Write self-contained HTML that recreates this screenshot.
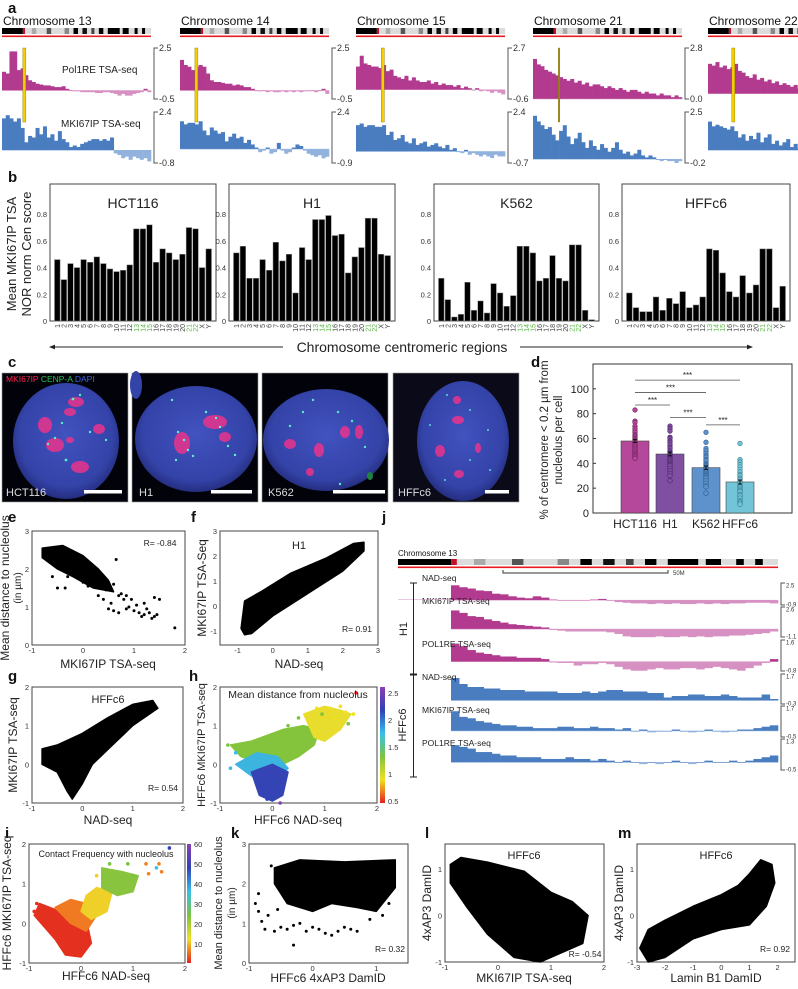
<!DOCTYPE html>
<html><head><meta charset="utf-8">
<style>
body{margin:0;background:#fff}
svg{display:block;font-family:"Liberation Sans",Arial,sans-serif}
.pl{font-weight:bold;font-size:15px;fill:#111}
.tk{font-size:7.5px;fill:#333}
.at{font-size:12px;fill:#222}
</style></head><body>
<svg id="fig" width="798" height="989" viewBox="0 0 798 989">
<defs>
<radialGradient id="nuc" cx="50%" cy="45%" r="55%"><stop offset="0" stop-color="#4252bf"/><stop offset="0.8" stop-color="#3443a8"/><stop offset="1" stop-color="#242e80"/></radialGradient>
<linearGradient id="cbH" x1="0" y1="0" x2="0" y2="1"><stop offset="0" stop-color="#8a3fb0"/><stop offset="0.2" stop-color="#3040b8"/><stop offset="0.4" stop-color="#38c0e8"/><stop offset="0.6" stop-color="#7cc440"/><stop offset="0.8" stop-color="#f0e020"/><stop offset="1" stop-color="#e82020"/></linearGradient>
<marker id="arr" viewBox="0 0 10 10" refX="5" refY="5" markerWidth="6" markerHeight="6" orient="auto-start-reverse"><path d="M0,1 L10,5 L0,9 z" fill="#222"/></marker>
</defs>

<text class="pl" x="8" y="13">a</text>
<text class="pl" x="8" y="182">b</text>
<text class="pl" x="8" y="367">c</text>
<text class="pl" x="531" y="367">d</text>
<text class="pl" x="8" y="522">e</text>
<text class="pl" x="191" y="522">f</text>
<text class="pl" x="8" y="681">g</text>
<text class="pl" x="189" y="681">h</text>
<text class="pl" x="5" y="838">i</text>
<text class="pl" x="382" y="522">j</text>
<text class="pl" x="231" y="838">k</text>
<text class="pl" x="425" y="838">l</text>
<text class="pl" x="618" y="838">m</text>

<g id="pa"></g>
<g id="pb">
<text x="0" y="0" transform="translate(16,254) rotate(-90)" text-anchor="middle" font-size="13" fill="#222">Mean MKI67IP TSA</text>
<text x="0" y="0" transform="translate(31,254) rotate(-90)" text-anchor="middle" font-size="13" fill="#222">NOR norm Cen score</text>
</g>
<g>
<line x1="283" y1="347" x2="52" y2="347" stroke="#222" stroke-width="1" marker-end="url(#arr)"/>
<line x1="520" y1="347" x2="750" y2="347" stroke="#222" stroke-width="1" marker-end="url(#arr)"/>
<text x="402" y="352" text-anchor="middle" font-size="14" fill="#222">Chromosome centromeric regions</text>
</g>

<g id="pc">
<g>
<rect x="2" y="373" width="126" height="129" fill="#02030a" stroke="#999" stroke-width="0.6"/>
<ellipse cx="66" cy="441" rx="53" ry="58" fill="url(#nuc)"/>
<g fill="#e0358e" opacity="0.9"><ellipse cx="76" cy="402" rx="8" ry="5"/><ellipse cx="70" cy="412" rx="6" ry="4"/><ellipse cx="45" cy="425" rx="7" ry="8"/><ellipse cx="55" cy="445" rx="9" ry="7"/><ellipse cx="99" cy="429" rx="6" ry="5"/><ellipse cx="80" cy="467" rx="9" ry="6"/><ellipse cx="70" cy="440" rx="4" ry="3"/></g>
<g fill="#50f0c0"><circle cx="73" cy="399" r="1.4"/><circle cx="80" cy="395" r="1.2"/><circle cx="55" cy="438" r="1.2"/><circle cx="66" cy="460" r="1.4"/><circle cx="90" cy="432" r="1.2"/><circle cx="106" cy="440" r="1.2"/><circle cx="62" cy="423" r="1.2"/><circle cx="48" cy="444" r="1.2"/></g>
<text x="6" y="382" font-size="8.5"><tspan fill="#ff2050">MKI67IP</tspan><tspan fill="#30c050"> CENP-A</tspan><tspan fill="#4060e0"> DAPI</tspan></text>
<text x="6" y="496" font-size="11" fill="#ddd">HCT116</text>
<rect x="84" y="490" width="38" height="3.5" fill="#fff"/>
</g>
<g>
<rect x="132" y="373" width="126" height="129" fill="#02030a" stroke="#999" stroke-width="0.6"/>
<ellipse cx="196" cy="439" rx="61" ry="53" fill="url(#nuc)"/>
<ellipse cx="136" cy="385" rx="6" ry="14" fill="#3443a8"/>
<g fill="#e0358e" opacity="0.9"><ellipse cx="182" cy="443" rx="8" ry="11"/><ellipse cx="215" cy="422" rx="12" ry="7"/><ellipse cx="225" cy="437" rx="6" ry="5"/></g>
<g fill="#60f0d0"><circle cx="178" cy="432" r="1.2"/><circle cx="184" cy="440" r="1.2"/><circle cx="188" cy="450" r="1.2"/><circle cx="206" cy="412" r="1.2"/><circle cx="216" cy="418" r="1.2"/><circle cx="220" cy="427" r="1.2"/><circle cx="172" cy="400" r="1.2"/><circle cx="176" cy="460" r="1.2"/><circle cx="193" cy="456" r="1.2"/><circle cx="228" cy="446" r="1.2"/><circle cx="235" cy="455" r="1.2"/></g>
<text x="139" y="496" font-size="11" fill="#ddd">H1</text>
<rect x="211" y="490" width="41" height="3.5" fill="#fff"/>
</g>
<g>
<rect x="262" y="373" width="126" height="129" fill="#02030a" stroke="#999" stroke-width="0.6"/>
<ellipse cx="326" cy="440" rx="63" ry="51" fill="url(#nuc)"/>
<g fill="#e0358e" opacity="0.9"><ellipse cx="290" cy="444" rx="6" ry="5"/><ellipse cx="319" cy="450" rx="5" ry="7"/><ellipse cx="310" cy="472" rx="4" ry="4"/><ellipse cx="345" cy="432" rx="5" ry="6"/><ellipse cx="359" cy="432" rx="4" ry="7"/></g>
<g fill="#50f0c0"><circle cx="313" cy="400" r="1.2"/><circle cx="303" cy="412" r="1.2"/><circle cx="338" cy="412" r="1.2"/><circle cx="352" cy="421" r="1.2"/><circle cx="290" cy="426" r="1.2"/><circle cx="340" cy="484" r="1.2"/><circle cx="365" cy="447" r="1.2"/></g>
<ellipse cx="370" cy="476" rx="3" ry="4" fill="#208040"/>
<text x="268" y="496" font-size="11" fill="#ddd">K562</text>
<rect x="333" y="490" width="52" height="3.5" fill="#fff"/>
</g>
<g>
<rect x="393" y="373" width="126" height="129" fill="#0a0a18" stroke="#999" stroke-width="0.6"/>
<ellipse cx="463" cy="441" rx="46" ry="60" fill="url(#nuc)"/>
<g fill="#e0358e" opacity="0.9"><ellipse cx="457" cy="400" rx="4" ry="4"/><ellipse cx="458" cy="420" rx="6" ry="4"/><ellipse cx="440" cy="451" rx="5" ry="6"/><ellipse cx="478" cy="448" rx="3" ry="5"/><ellipse cx="459" cy="474" rx="5" ry="4"/></g>
<g fill="#50e0d0"><circle cx="447" cy="395" r="1"/><circle cx="470" cy="410" r="1"/><circle cx="430" cy="425" r="1"/><circle cx="488" cy="430" r="1"/><circle cx="470" cy="460" r="1"/><circle cx="445" cy="480" r="1"/><circle cx="490" cy="470" r="1"/></g>
<text x="398" y="496" font-size="11" fill="#ddd">HFFc6</text>
<rect x="485" y="490" width="24" height="3.5" fill="#fff"/>
</g>
</g>

<g id="pd">
<rect x="593" y="364" width="199" height="149" fill="none" stroke="#333" stroke-width="1"/>
<text transform="translate(548,440) rotate(-90)" text-anchor="middle" font-size="11.5" fill="#222">% of centromere &lt; 0.2 µm from</text>
<text transform="translate(562,440) rotate(-90)" text-anchor="middle" font-size="11.5" fill="#222">nucleolus per cell</text>
</g>

<g id="pe"></g>
<g id="pf"></g>
<g id="pg"></g>
<g id="ph"></g>
<g id="pi"></g>
<g id="pk"></g>
<g id="pl"></g>
<g id="pm"></g>
<g id="pj"></g>
</svg>

<script>
const aNames=['Chromosome 13','Chromosome 14','Chromosome 15','Chromosome 21','Chromosome 22'];
const aMagRange=[[2.5,-0.5],[2.5,-0.5],[2.7,-0.6],[2.8,0.0],[2.6,-0.3]];
const aBlueRange=[[2.4,-0.8],[2.4,-0.9],[2.4,-0.7],[2.5,-0.2],[2.4,-0.8]];
const aMarker=[0.14,0.10,0.17,0.17,0.16];
const aMag13=[1.1,1.0,2.3,2.3,1.2,1.3,0.9,0.6,0.5,0.4,0.35,0.3,0.3,0.25,0.2,0.2,0.25,0.1,0,-0.05,-0.05,-0.1,-0.1,-0.1,-0.1,-0.15,-0.15,-0.1,-0.1,-0.15,-0.2,-0.3,-0.2,-0.3,-0.3,-0.2,-0.15,-0.1,0.1,-0.1];
const aMag14=[1.8,1.5,1.4,1.2,1.4,1.5,1.4,1.0,0.6,0.5,0.5,0.45,0.4,0.4,0.3,0.35,0.3,0.2,0.2,0.1,0,-0.05,0,-0.1,-0.05,-0.1,-0.1,-0.05,-0.1,-0.05,-0.1,-0.05,-0.1,-0.05,-0.05,0,-0.1,0,0.1,-0.2];
const aMag15=[1.5,2.2,1.7,1.6,1.5,1.5,1.4,1.6,1.2,1.3,0.9,0.8,0.7,0.9,0.6,0.8,0.6,0.5,0.5,0.6,0.4,0.5,0.3,0.4,0.3,0.3,0.2,0.3,0.1,0.2,0.1,0.0,0.1,-0.1,0,-0.1,-0.2,-0.1,-0.2,-0.3];
const aMag21=[2.2,1.9,1.8,1.6,1.5,1.4,1.3,1.2,1.1,1.0,1.1,0.9,1.0,0.8,0.9,0.7,0.8,0.8,0.7,0.6,0.7,0.6,0.5,0.6,0.5,0.4,0.5,0.5,0.4,0.3,0.4,0.3,0.3,0.2,0.3,0.2,0.2,0.1,0.2,0.1];
const aMag22=[1.7,1.6,1.8,1.5,1.6,1.4,1.5,1.7,1.3,1.2,1.0,0.9,1.1,0.8,0.9,0.7,0.8,0.6,0.7,0.5,0.6,0.5,0.4,0.5,0.3,0.4,0.3,0.2,0.3,0.2,0.1,0.2,0.1,0,0.1,0,-0.1,0,-0.1,-0.2];
const aBlue13=[2.0,2.2,2.0,1.8,2.0,1.4,0.5,0.9,0.8,1.4,1.0,1.5,0.8,1.0,0.6,1.2,0.7,0.5,0.2,0.3,0.2,0.4,0.5,0.6,0.7,0.7,0.6,0.7,0.6,0.8,-0.2,-0.3,-0.5,-0.4,-0.6,-0.4,-0.5,-0.6,-0.5,-0.7];
const aBlue14=[1.8,1.6,1.7,1.7,1.6,1.8,1.2,0.9,1.4,1.2,1.0,1.1,0.5,0.8,1.0,0.7,0.8,0.4,0.6,0.3,0.1,-0.2,-0.1,0.1,-0.3,-0.2,0.4,-0.1,-0.3,-0.2,0.1,0.3,0.2,-0.1,-0.3,-0.4,-0.5,-0.4,-0.6,-0.5];
const aBlue15=[1.6,1.7,1.5,1.6,1.6,1.5,1.5,1.6,1.0,1.2,0.7,0.8,1.0,0.6,0.5,0.8,0.4,0.5,0.6,0.3,0.4,0.5,0.3,0.2,0.4,0.1,0.2,0.0,-0.1,0.1,-0.2,-0.1,-0.2,-0.3,-0.2,-0.3,-0.4,-0.2,-0.3,-0.3];
const aBlue21=[2.3,2.0,1.8,1.6,1.7,1.3,1.0,1.5,1.8,1.2,0.8,1.1,1.4,0.9,0.6,1.0,0.7,0.5,0.8,0.6,0.4,0.6,0.9,0.5,0.3,0.4,0.2,0.3,0.5,0.2,0.1,0.2,0.1,0.0,-0.1,0,-0.1,-0.1,-0.2,-0.1];
const aBlue22=[1.8,1.5,1.6,1.5,1.4,1.3,1.5,1.2,0.8,1.0,0.6,0.9,0.7,1.1,0.5,0.8,1.0,0.4,0.6,0.3,0.5,0.7,0.2,0.4,0.1,0.3,0.0,0.2,-0.1,-0.3,-0.2,-0.4,-0.3,-0.5,-0.3,-0.4,-0.2,-0.3,-0.4,-0.3];
const ideoBands=[[0,0.14,'#000'],[0.14,0.155,'#c0102a'],[0.155,1,'#dcdcdc'],[0.2,0.23,'#aaa'],[0.3,0.33,'#555'],[0.42,0.45,'#888'],[0.48,0.51,'#000'],[0.54,0.57,'#111'],[0.6,0.62,'#444'],[0.65,0.68,'#000'],[0.71,0.79,'#000'],[0.81,0.85,'#000'],[0.89,0.91,'#000'],[0.94,0.96,'#000']];

const bLines=['HCT116','H1','K562','HFFc6'];
const bChroms=['1','2','3','4','5','6','7','8','9','10','11','12','13','14','15','16','17','18','19','20','21','22','X','Y'];
const bGreen=['13','14','15','21','22'];
const bHCT=[0.46,0.31,0.43,0.40,0.46,0.44,0.48,0.43,0.39,0.37,0.38,0.42,0.69,0.69,0.72,0.44,0.54,0.51,0.46,0.50,0.70,0.69,0.40,0.54];
const bH1=[0.51,0.56,0.32,0.32,0.46,0.38,0.59,0.45,0.50,0.21,0.55,0.46,0.76,0.76,0.79,0.64,0.65,0.36,0.48,0.55,0.77,0.77,0.50,0.49];
const bK562=[0.32,0.16,0.03,0.05,0.29,0.08,0.15,0.06,0.28,0.21,0.11,0.19,0.56,0.56,0.51,0.30,0.32,0.49,0.32,0.30,0.57,0.57,0.08,0.01];
const bHFF=[0.21,0.10,0.07,0.07,0.18,0.08,0.17,0.13,0.22,0.10,0.12,0.18,0.54,0.53,0.36,0.22,0.18,0.34,0.21,0.27,0.54,0.54,0.10,0.26];
const bTicks=[0,0.2,0.4,0.6,0.8];

const dGroups=['HCT116','H1','K562','HFFc6'];
const dMeans=[58,47.5,36.5,25];
const dErr=[1.2,1.5,1.4,1.6];
const dHCT=[83,74,73,70,68,66,65,63,62,61,60,59,58,57,56,55,54,53,52,51,50,49,48,47,46,45,44];
const dH1=[70,68,66,61,60,58,57,55,53,52,50,49,48,47,46,45,44,43,42,41,40,39,38,36,34,32,30,26];
const dK562=[65,57,52,50,48,46,45,43,42,40,39,38,37,36,35,34,33,32,31,30,29,28,26,24,22,21,16];
const dHFF=[56,43,41,39,37,35,33,31,30,28,27,25,24,22,21,20,19,18,17,15,14,12,10,9,8,7];
const dSig=[[0,3,107],[0,2,97],[0,1,87],[1,2,77],[2,3,71]];
const dTicks=[0,20,40,60,80,100];

const eCloud=[[-0.8,2.55],[-0.4,2.62],[0.0,2.35],[0.3,2.0],[0.5,1.7],[0.6,1.4],[0.2,1.5],[-0.2,1.8],[-0.5,2.0],[-0.8,2.3]];
const ePts=[[0.6,1.6],[0.7,1.3],[0.8,1.2],[0.9,1.0],[0.5,0.95],[0.6,0.9],[0.7,0.85],[0.85,0.95],[1.0,0.9],[1.1,0.85],[1.2,0.8],[1.3,0.85],[1.4,0.75],[1.45,0.8],[1.35,0.7],[1.5,1.2],[1.4,1.25],[1.2,1.1],[1.05,1.05],[0.95,1.2],[0.65,2.25],[1.8,0.45],[0.3,1.3],[0.4,1.2],[0.45,1.45],[0.1,1.55],[0.0,1.65],[-0.3,1.8],[-0.5,1.5],[-0.35,1.5],[-0.6,1.8],[0.75,1.35],[0.85,1.3],[0.55,1.1],[1.25,0.95],[1.15,0.75],[0.35,1.7]];
const fCloud=[[-0.9,-0.9],[-0.8,-1.15],[-0.6,-1.1],[0.0,-0.4],[1.0,0.5],[2.0,1.4],[2.6,2.2],[2.6,2.55],[2.3,2.5],[1.5,1.9],[0.5,1.3],[-0.3,0.6],[-0.8,0.2]];
const gCloud=[[-0.8,0.4],[-0.5,0.5],[0.0,0.8],[0.5,1.2],[1.0,1.55],[1.4,1.65],[1.5,1.45],[1.0,1.0],[0.6,0.5],[0.2,0.0],[0.0,-0.5],[-0.2,-0.9],[-0.3,-0.7],[-0.5,-0.2],[-0.8,0.0]];
const hGreen=[[-0.8,0.5],[-0.4,0.6],[0.2,0.9],[0.6,1.0],[0.9,0.9],[0.8,0.5],[0.5,0.2],[0.2,0.0],[-0.2,0.0],[-0.6,0.2]];
const hYellow=[[0.6,1.3],[1.0,1.5],[1.3,1.4],[1.5,1.3],[1.3,0.9],[1.0,0.6],[0.8,0.7],[0.7,1.0]];
const hCyan=[[-0.7,0.0],[-0.3,0.3],[0.1,0.2],[0.3,-0.1],[0.1,-0.4],[-0.4,-0.3]];
const hBlue=[[-0.4,-0.2],[0.0,0.0],[0.3,-0.2],[0.2,-0.8],[0.0,-0.95],[-0.25,-0.8]];
const hPts=[[1.6,1.85,0.5],[1.4,1.35,0.8],[1.1,1.45,0.9],[1.55,1.3,0.7],[1.2,1.2,1.0],[0.95,1.3,1.1],[1.3,1.5,0.8],[-0.85,0.5,1.5],[-0.7,0.3,1.6],[-0.8,-0.1,1.9],[0.5,1.2,1.3],[0.3,1.0,1.4],[-0.1,-0.9,2.2],[0.15,-1.0,2.3],[1.45,1.05,1.2],[0.85,1.45,1.0]];
const iRed=[[-0.8,0.5],[-0.4,0.3],[0.1,0.1],[0.2,-0.5],[0.0,-0.85],[-0.3,-0.8],[-0.5,-0.4],[-0.9,0.2]];
const iOrange=[[-0.5,0.4],[-0.2,0.6],[0.1,0.5],[0.3,0.2],[0.1,-0.2],[-0.2,0.0]];
const iYellow=[[0.1,0.7],[0.3,0.9],[0.6,0.8],[0.5,0.3],[0.2,0.1],[0.0,0.3]];
const iGreen=[[0.4,1.4],[0.8,1.3],[1.1,1.2],[1.0,0.8],[0.7,0.7],[0.4,0.9]];
const iPts=[[1.7,1.9,55],[1.5,1.5,12],[1.55,1.3,10],[1.45,1.4,40],[1.3,1.25,15],[0.9,1.5,25],[0.55,1.5,30],[1.0,1.2,28],[-0.85,0.5,5],[-0.9,0.3,4],[0.0,-0.8,3],[0.3,1.2,20],[1.25,1.5,14]];
const kCloud=[[-0.6,2.4],[-0.2,2.6],[0.5,2.55],[1.3,2.6],[1.3,1.9],[1.0,1.3],[0.7,1.4],[0.3,1.5],[0.0,1.3],[-0.4,1.5],[-0.6,2.0]];
const kPts=[[-0.8,1.05],[-0.75,0.85],[-0.6,0.8],[-0.5,0.9],[-0.4,0.85],[-0.3,0.95],[-0.2,1.0],[-0.1,0.8],[0.0,0.9],[0.1,0.85],[0.2,0.75],[0.3,0.7],[0.4,0.8],[0.5,0.9],[0.6,0.85],[0.7,0.8],[-0.3,0.45],[-0.9,1.5],[-0.85,1.3],[-0.7,1.2],[0.9,1.1],[1.2,1.5],[1.1,1.2],[-0.65,2.45],[-0.85,1.75],[-0.55,1.35],[1.25,2.2]];
const lCloud=[[-0.9,1.1],[-0.7,1.25],[-0.2,1.15],[0.5,0.95],[1.0,0.5],[1.4,0.3],[1.7,0.0],[1.6,-0.6],[1.2,-0.8],[0.8,-1.0],[0.3,-0.9],[-0.2,-0.4],[-0.6,0.2],[-0.9,0.7]];
const mCloud=[[-2.9,-0.7],[-2.6,-0.3],[-2.0,-0.1],[-1.0,0.2],[0.0,0.45],[0.6,0.65],[1.0,0.9],[1.4,1.2],[1.8,1.1],[1.9,0.7],[1.6,0.2],[1.0,-0.2],[0.0,-0.3],[-1.0,-0.5],[-2.0,-0.9],[-2.6,-1.0]];

const jNames=['NAD-seq','MKI67IP TSA-seq','POL1RE TSA-seq','NAD-seq','MKI67IP TSA-seq','POL1RE TSA-seq'];
const jRange=[[2.5,-0.9],[2.6,-1.1],[1.6,-0.8],[1.7,-0.3],[1.7,-0.5],[1.3,-0.5]];
const j1=[2.3,2.0,1.8,1.5,1.4,1.0,0.9,0.6,0.4,0.3,0.6,0.4,0.1,-0.1,-0.1,-0.1,-0.1,0.1,0.2,-0.1,-0.3,-0.4,-0.5,-0.5,-0.6,-0.5,-0.6,-0.5,-0.6,-0.6,-0.5,-0.6,-0.5,-0.6,-0.5,-0.5,-0.4,-0.4,-0.4,-0.5];
const j2=[2.3,2.0,1.6,1.5,1.2,1.0,0.8,0.6,0.5,0.4,0.3,0.2,0.0,-0.2,-0.3,-0.3,-0.3,-0.3,-0.3,-0.4,-0.6,-0.9,-1.0,-1.0,-1.0,-0.9,-1.0,-1.0,-0.9,-1.0,-0.9,-1.0,-0.9,-0.9,-0.8,-0.8,-0.7,-0.6,-0.5,-0.3];
const j3=[1.4,1.2,0.9,0.7,0.6,0.5,0.4,0.4,0.3,0.3,0.3,0.2,0.0,-0.1,-0.1,-0.3,-0.2,-0.2,-0.1,-0.2,-0.4,-0.6,-0.7,-0.7,-0.6,-0.5,-0.6,-0.6,-0.5,-0.5,-0.6,-0.5,-0.4,-0.5,-0.6,-0.7,-0.5,-0.3,-0.1,0.2];
const j4=[1.5,1.1,0.9,0.9,0.8,0.8,0.7,0.7,0.7,0.6,0.6,0.6,0.6,0.5,0.5,0.5,0.6,0.5,0.6,0.7,0.7,0.6,0.6,0.6,0.5,0.5,0.2,0.3,0.3,0.4,0.4,0.3,0.3,0.4,0.3,0.2,0.2,0.2,0.4,0.1];
const j5=[1.4,1.0,0.9,0.7,0.6,0.5,0.4,0.4,0.3,0.3,0.2,0.2,0.2,0.3,0.3,0.2,0.2,0.3,0.2,0.2,0.1,0.2,0.0,0.1,-0.1,0.0,0.0,0.1,0.0,-0.1,0.0,0.1,0.0,-0.1,0.0,0.1,0.1,0.2,0.3,0.4];
const j6=[1.0,0.9,0.8,0.6,0.6,0.5,0.4,0.4,0.3,0.3,0.3,0.2,0.2,0.2,0.3,0.2,0.2,0.1,0.2,0.1,0.0,0.1,0.0,-0.1,0.0,-0.1,0.0,0.1,0.0,-0.1,0.0,0.1,0.0,0.0,0.1,0.0,0.1,0.2,0.3,0.4];

const NS='http://www.w3.org/2000/svg';
function mk(tag,parent){const e=document.createElementNS(NS,tag);parent.appendChild(e);return e;}
function at(e,o){for(const k in o)e.setAttribute(k,o[k]);return e;}
function lin(d0,d1,r0,r1){return v=>r0+(v-d0)*(r1-r0)/(d1-d0);}
function txt(parent,x,y,s,cls,anchor){const t=mk('text',parent);at(t,{x:x,y:y,'text-anchor':anchor||'start'});if(cls)t.setAttribute('class',cls);t.textContent=s;return t;}

function drawTrack(g,vals,x0,x1,yT,yB,vmax,vmin,pc,nc,nm){
  const sx=lin(0,vals.length,x0,x1),sy=lin(vmin,vmax,yB,yT),z=sy(0);
  vals.forEach((v,i)=>{
    const r=mk('rect',g);
    const y=sy(v);
    at(r,{x:sx(i),y:Math.min(y,z),width:sx(i+1)-sx(i)+0.3,height:Math.max(0.6,Math.abs(z-y)),fill:v>=0?pc:nc});
    
    
  });
  const b=mk('line',g);at(b,{x1:x0,x2:x1,y1:z,y2:z,stroke:nc,'stroke-width':0.5});
  
  
}
function scaleBar(g,x,yT,yB,top,bot,fs,nm,off){
  off=off||0;
  const p=mk('path',g);at(p,{d:`M${x+4},${yT}H${x}V${yB}H${x+4}`,fill:'none',stroke:'#555','stroke-width':1});
  
  
  const t1=txt(g,x+5,yT+3+off,top);t1.setAttribute('font-size',fs);t1.setAttribute('fill','#333');
  
  
  const t2=txt(g,x+5,yB+3-off,bot);t2.setAttribute('font-size',fs);t2.setAttribute('fill','#333');
  
  
}
function ideogram(g,x0,x1,y,h,nm){
  const s=lin(0,1,x0,x1);
  ideoBands.forEach(b=>{const r=mk('rect',g);at(r,{x:s(b[0]),y:y,width:s(b[1])-s(b[0]),height:h,fill:b[2]});
    
    });
  const l=mk('rect',g);at(l,{x:x0,y:y+h+1.5,width:x1-x0,height:1.6,fill:'#e8191f'});
  
  
}

(function(){
  const g=document.getElementById('pa');
  const mags=[aMag13,aMag14,aMag15,aMag21,aMag22],blues=[aBlue13,aBlue14,aBlue15,aBlue21,aBlue22];
  const x0s=[2,180,356,533,708],w=149;
  aNames.forEach((n,k)=>{
    const x0=x0s[k],x1=x0+w;
    const t=txt(g,x0+1,25,n);t.setAttribute('font-size','12');t.setAttribute('fill','#111');
    
    
    ideogram(g,x0,x1,28,6,'a-ideogram');
    drawTrack(g,mags[k],x0,x1,48,99,aMagRange[k][0],aMagRange[k][1],'#b23a8f','#d690c2','a-pol1re');
    drawTrack(g,blues[k],x0,x1,112,163,aBlueRange[k][0],aBlueRange[k][1],'#4a7cc0','#92b2de','a-mki67ip');
    scaleBar(g,x1+3,48,99,aMagRange[k][0].toFixed(1),aMagRange[k][1].toFixed(1),9,'a-pol1re');
    scaleBar(g,x1+3,112,163,aBlueRange[k][0].toFixed(1),aBlueRange[k][1].toFixed(1),9,'a-mki67ip');
    const mx=x0+aMarker[k]*w;
    const m=mk('rect',g);at(m,{x:mx,y:48,width:k==3?1.5:3,height:74,fill:k==3?'#a08a20':'#f5cf00',stroke:'#8a7000','stroke-width':0.4});
    
    
  });
  const l1=txt(g,62,73,'Pol1RE TSA-seq');l1.setAttribute('font-size','10');l1.setAttribute('fill','#222');
  
  
  const l2=txt(g,61,127,'MKI67IP TSA-seq');l2.setAttribute('font-size','10');l2.setAttribute('fill','#222');
  
  
})();

(function(){
  const g=document.getElementById('pb');
  const frames=[[50,216],[229,395],[434,599],[622,790]];
  const data=[bHCT,bH1,bK562,bHFF];
  const yT=184,yB=321,sy=lin(0,1,yB,187.5);
  frames.forEach((f,k)=>{
    const fr=mk('rect',g);at(fr,{x:f[0],y:yT,width:f[1]-f[0],height:yB-yT,fill:'none',stroke:'#444','stroke-width':1});
    
    
    const t=txt(g,(f[0]+f[1])/2,208,bLines[k],null,'middle');t.setAttribute('font-size','14');t.setAttribute('fill','#222');
    
    
    bTicks.forEach(v=>{const tl=txt(g,f[0]-3,sy(v)+3,String(v),'tk','end');
      
      });
    const sx=lin(0,bChroms.length,f[0]+4,f[1]-4),bw=sx(1)-sx(0);
    data[k].forEach((v,i)=>{
      const r=mk('rect',g);at(r,{x:sx(i)+0.5,y:sy(v),width:bw-1,height:yB-sy(v),fill:'#000',stroke:'#888','stroke-width':0.5});
      
      
      const cx=sx(i)+bw/2;
      const tl=mk('text',g);at(tl,{transform:`translate(${cx+2.5},${yB+3}) rotate(-90)`,'text-anchor':'end','font-size':7,fill:bGreen.includes(bChroms[i])?'#5cb946':'#444'});
      tl.textContent=bChroms[i];
      
      
    });
  });
})();

(function(){
  const g=document.getElementById('pd');
  const sy=lin(0,120,513,364),xs=[635,670,706,740],bw=28;
  const fills=['#b5489a','#7f4fa2','#5e92cd','#72c4d6'];
  const strokes=['#6e1f5a','#4a2468','#2a5a8a','#307a8a'];
  const pts=[dHCT,dH1,dK562,dHFF];
  dTicks.forEach(v=>{const t=txt(g,589,sy(v)+4,String(v),null,'end');t.setAttribute('font-size','11');t.setAttribute('fill','#222');
    
    
    const tk=mk('line',g);at(tk,{x1:593,x2:596,y1:sy(v),y2:sy(v),stroke:'#333'});
    
    });
  dGroups.forEach((n,k)=>{
    const r=mk('rect',g);at(r,{x:xs[k]-bw/2,y:sy(dMeans[k]),width:bw,height:513-sy(dMeans[k]),fill:fills[k],stroke:'#444','stroke-width':0.6});
    
    
    pts[k].forEach(v=>{const c=mk('circle',g);at(c,{cx:xs[k],cy:sy(v),r:2.3,fill:fills[k],stroke:strokes[k],'stroke-width':0.6});
      
      });
    const e=mk('path',g);const y1=sy(dMeans[k]+dErr[k]),y2=sy(dMeans[k]-dErr[k]);
    at(e,{d:`M${xs[k]-2},${y1}H${xs[k]+2}M${xs[k]},${y1}V${y2}M${xs[k]-2},${y2}H${xs[k]+2}`,stroke:'#111','stroke-width':1,fill:'none'});
    
    
    const t=txt(g,xs[k],528,n,null,'middle');t.setAttribute('font-size','12');t.setAttribute('fill','#222');
    
    
  });
  dSig.forEach(s=>{
    const l=mk('line',g);at(l,{x1:xs[s[0]],x2:xs[s[1]],y1:sy(s[2]),y2:sy(s[2]),stroke:'#555','stroke-width':0.8});
    
    
    const t=txt(g,(xs[s[0]]+xs[s[1]])/2,sy(s[2])-2,'***',null,'middle');t.setAttribute('font-size','8');t.setAttribute('fill','#222');
    
    
  });
})();

function axesBox(id,x0,x1,y0,y1,xd,yd,xt,yt){
  const g=document.getElementById(id);
  const sx=lin(xd[0],xd[1],x0,x1),sy=lin(yd[0],yd[1],y1,y0);
  const fr=mk('rect',g);at(fr,{x:x0,y:y0,width:x1-x0,height:y1-y0,fill:'none',stroke:'#444','stroke-width':1});
  
  
  xt.forEach(v=>{const t=txt(g,sx(v),y1+8,String(v),'tk','middle');
    
    });
  yt.forEach(v=>{const t=txt(g,x0-3,sy(v)+3,String(v),'tk','end');
    
    });
  return {g,sx,sy};
}
function poly(a,pts,fill,nm){const p=mk('polygon',a.g);at(p,{points:pts.map(q=>a.sx(q[0])+','+a.sy(q[1])).join(' '),fill:fill,stroke:fill,'stroke-width':1.5,'stroke-linejoin':'round'});
  
  }
function dots(a,pts,r,colorFn,nm){pts.forEach(q=>{const c=mk('circle',a.g);at(c,{cx:a.sx(q[0]),cy:a.sy(q[1]),r:r,fill:colorFn(q)});
  
  });}
function label(a,x,y,s,fs,anchor,rot,nm){const t=mk('text',a.g);
  at(t,rot?{transform:`translate(${x},${y}) rotate(-90)`,'text-anchor':'middle','font-size':fs,fill:'#222'}:{x:x,y:y,'text-anchor':anchor||'middle','font-size':fs,fill:'#222'});
  t.textContent=s;
  
  }
function cmapDist(v){const s=[[0.5,'#e82020'],[1.0,'#f0e020'],[1.5,'#7cc440'],[2.0,'#38c0e8'],[2.25,'#3040b8'],[2.6,'#8a3fb0']];for(const q of s)if(v<=q[0])return q[1];return '#8a3fb0';}
function cmapFreq(v){const s=[[8,'#e83020'],[15,'#f08020'],[22,'#f0d020'],[33,'#7cc440'],[45,'#38c0e8'],[55,'#3040b8']];for(const q of s)if(v<=q[0])return q[1];return '#9a4fc0';}

(function(){
  let a=axesBox('pe',32,185,531,645,[-1,2],[0,3],[-1,0,1,2],[0,1,2,3]);
  poly(a,eCloud,'#000','e-dense-cloud');dots(a,ePts,1.5,()=>'#000','e-point');
  label(a,108,668,'MKI67IP TSA-seq',12,'middle',false,'e-x-axis-title');
  label(a,9,588,'Mean distance to nucleolus',12,'',true,'e-y-axis-title');
  label(a,21,588,'(in µm)',10,'',true,'e-y-axis-unit');
  label(a,160,546,'R= -0.84',8.5,'middle',false,'e-r-value');

  a=axesBox('pf',220,378,531,645,[-1.5,3],[-1.56,3],[-1,0,1,2,3],[-1,0,1,2,3]);
  poly(a,fCloud,'#000','f-dense-cloud');
  label(a,299,668,'NAD-seq',12,'middle',false,'f-x-axis-title');
  label(a,206,588,'MKI67IP TSA-Seq',12,'',true,'f-y-axis-title');
  label(a,299,549,'H1',11,'middle',false,'f-title');
  label(a,357,632,'R= 0.91',8.5,'middle',false,'f-r-value');

  a=axesBox('pg',32,183,687,803,[-1,2],[-1,2],[-1,0,1,2],[-1,0,1,2]);
  poly(a,gCloud,'#000','g-dense-cloud');
  label(a,108,824,'NAD-seq',12,'middle',false,'g-x-axis-title');
  label(a,17,745,'MKI67IP TSA-seq',12,'',true,'g-y-axis-title');
  label(a,108,703,'HFFc6',11,'middle',false,'g-title');
  label(a,163,791,'R= 0.54',8.5,'middle',false,'g-r-value');

  a=axesBox('ph',220,377,687,803,[-1,2],[-1,2],[-1,0,1,2],[-1,0,1,2]);
  poly(a,hGreen,'#84c43c','h-green-region');poly(a,hCyan,'#3cb4e0','h-cyan-region');poly(a,hYellow,'#e8dc2c','h-yellow-region');poly(a,hBlue,'#3444b4','h-blue-region');
  dots(a,hPts,1.8,q=>cmapDist(q[2]),'h-point');
  const cb=mk('rect',a.g);at(cb,{x:380,y:687,width:5,height:116,fill:'url(#cbH)'});
  
  
  [['2.5',693],['2',720],['1.5',747],['1',774],['0.5',801]].forEach(q=>{const t=txt(a.g,388,q[1]+3,q[0],'tk');
    
    });
  label(a,298,824,'HFFc6 NAD-seq',12,'middle',false,'h-x-axis-title');
  label(a,205,745,'HFFc6 MKI67IP TSA-seq',11,'',true,'h-y-axis-title');
  label(a,298,698,'Mean distance from nucleolus',10.5,'middle',false,'h-title');
  const hf=mk('text',a.g);at(hf,{transform:'translate(406,725) rotate(-90)','text-anchor':'middle','font-size':11,fill:'#222'});hf.textContent='HFFc6';
  
  

  a=axesBox('pi',29,185,844,963,[-1,2],[-1,2],[-1,0,1,2],[-1,0,1,2]);
  poly(a,iRed,'#e4301e','i-red-region');poly(a,iOrange,'#f07a22','i-orange-region');poly(a,iYellow,'#eed028','i-yellow-region');poly(a,iGreen,'#88c43e','i-green-region');
  dots(a,iPts,1.8,q=>cmapFreq(q[2]),'i-point');
  const cb2=mk('rect',a.g);at(cb2,{x:187,y:844,width:4,height:119,fill:'url(#cbH)'});
  
  
  [60,50,40,30,20,10].forEach((v,k)=>{const t=txt(a.g,194,847+k*20,String(v),'tk');
    
    });
  label(a,106,980,'HFFc6 NAD-seq',12,'middle',false,'i-x-axis-title');
  label(a,11,903,'HFFc6 MKI67IP TSA-seq',12,'',true,'i-y-axis-title');
  label(a,106,857,'Contact Frequency with nucleolus',9,'middle',false,'i-title');

  a=axesBox('pk',249,408,844,963,[-1,1.5],[0,3],[-1,0,1],[0,1,2,3]);
  poly(a,kCloud,'#000','k-dense-cloud');dots(a,kPts,1.5,()=>'#000','k-point');
  label(a,328,982,'HFFc6 4xAP3 DamID',12,'middle',false,'k-x-axis-title');
  label(a,222,903,'Mean distance to nucleolus',11,'',true,'k-y-axis-title');
  label(a,235,903,'(in µm)',10,'',true,'k-y-axis-unit');
  label(a,390,952,'R= 0.32',8.5,'middle',false,'k-r-value');

  a=axesBox('pl',445,604,844,962,[-1,2],[-1,1.54],[-1,0,1,2],[-1,0,1]);
  poly(a,lCloud,'#000','l-dense-cloud');
  label(a,524,982,'MKI67IP TSA-seq',12,'middle',false,'l-x-axis-title');
  label(a,431,903,'4xAP3 DamID',12,'',true,'l-y-axis-title');
  label(a,524,859,'HFFc6',11,'middle',false,'l-title');
  label(a,585,957,'R= -0.54',8.5,'middle',false,'l-r-value');

  a=axesBox('pm',637,795,844,962,[-3,2.62],[-1,1.54],[-3,-2,-1,0,1,2],[-1,0,1]);
  poly(a,mCloud,'#000','m-dense-cloud');
  label(a,716,982,'Lamin B1 DamID',12,'middle',false,'m-x-axis-title');
  label(a,623,903,'4xAP3 DamID',12,'',true,'m-y-axis-title');
  label(a,716,859,'HFFc6',11,'middle',false,'m-title');
  label(a,775,952,'R= 0.92',8.5,'middle',false,'m-r-value');
})();

(function(){
  const g=document.getElementById('pj');
  const t=txt(g,398,556,'Chromosome 13');t.setAttribute('font-size','8');t.setAttribute('fill','#111');
  
  
  ideogram(g,398,778,559,6,'j-ideogram');
  const sb=mk('path',g);at(sb,{d:'M503,570V573H668V570',fill:'none',stroke:'#333','stroke-width':1});
  
  
  const s5=txt(g,673,575,'50M');s5.setAttribute('font-size','6');s5.setAttribute('fill','#333');
  
  
  const tracks=[j1,j2,j3,j4,j5,j6];
  const tops=[582,606,639,673,705,738],bots=[606,638,672,705,738,771],lab=[581,604,647,680,713,746];
  tracks.forEach((v,k)=>{
    const pc=k<3?'#b23a8f':'#4a7cc0',nc=k<3?'#d690c2':'#92b2de';
    drawTrack(g,v,451,778,tops[k]+2,bots[k],jRange[k][0],jRange[k][1],pc,nc,'j-track');
    scaleBar(g,781,tops[k]+1,bots[k]-1,jRange[k][0].toFixed(1),jRange[k][1].toFixed(1),6,'j-track',1.5);
    const l=txt(g,422,lab[k],jNames[k]);l.setAttribute('font-size','8.5');l.setAttribute('fill','#222');
    
    
  });
  const ln=mk('line',g);at(ln,{x1:398,x2:451,y1:599.5,y2:599.5,stroke:'#d690c2','stroke-width':0.6});
  
  
  [[583,675,'H1',629],[674,777,'HFFc6',0]].forEach(b=>{
    const p=mk('path',g);at(p,{d:`M410,${b[0]}H417M413.5,${b[0]}V${b[1]}M410,${b[1]}H417`,stroke:'#222',fill:'none','stroke-width':1});
    
    
    if(b[3]){const tt=mk('text',g);at(tt,{transform:`translate(407,${b[3]}) rotate(-90)`,'text-anchor':'middle','font-size':11,fill:'#222'});tt.textContent=b[2];
      
      }
  });
})();
</script>
</body></html>
